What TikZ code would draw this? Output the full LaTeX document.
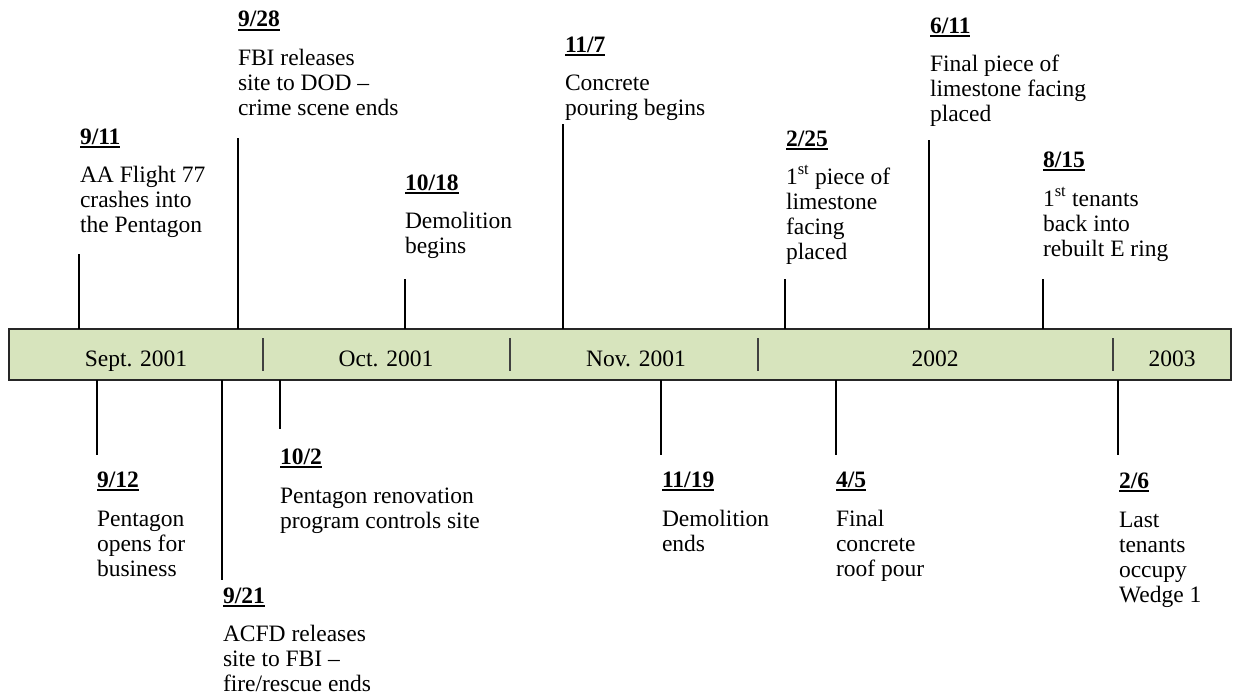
\documentclass[tikz,border=0pt]{standalone}
\usepackage{fontspec}
\setmainfont{Liberation Serif}
\definecolor{bandgreen}{HTML}{D7E4BD}
\newcommand\dlbl[1]{\setbox0=\hbox{\bfseries #1}\rlap{\rule[-4pt]{\wd0}{2pt}}\box0}
\newcommand\stk[1]{\vtop{\baselineskip=25pt\lineskiplimit=-40pt\lineskip=0pt\halign{##\hfil\cr#1\crcr}}}
\tikzset{
  txt/.style={inner sep=0pt, outer sep=0pt, anchor=base west, font=\fontsize{23.5pt}{25pt}\selectfont},
  mlbl/.style={inner sep=0pt, anchor=base, font=\fontsize{23.5pt}{25pt}\selectfont},
  tickln/.style={draw=black, line width=1.4pt},
  divln/.style={draw=black!75, line width=1.3pt},
  bandbox/.style={draw=black!85, line width=1.6pt, fill=bandgreen, minimum width=1222pt, minimum height=51pt, inner sep=0pt, outer sep=0pt, anchor=north west}
}
\begin{document}
\begin{tikzpicture}[x=1pt,y=-1pt]
\useasboundingbox (0,0) rectangle (1233,696);
\node[bandbox] (band) at (9,329) {};
% dividers
\draw[divln] (263,338) -- (263,371);
\draw[divln] (510,338) -- (510,371);
\draw[divln] (758,338) -- (758,371);
\draw[divln] (1113,338) -- (1113,371);
% month labels
\node[mlbl] (m1) at (136,366) {Sept. 2001};
\node[mlbl] (m2) at (386,366) {Oct. 2001};
\node[mlbl] (m3) at (636,366) {Nov. 2001};
\node[mlbl] (m4) at (935,366) {2002};
\node[mlbl] (m5) at (1172,366) {2003};
% top events
\coordinate (k1) at (79,254);
\coordinate (k2) at (238,138);
\coordinate (k3) at (405,279);
\coordinate (k4) at (563,124);
\coordinate (k5) at (785,279);
\coordinate (k6) at (929,140);
\coordinate (k7) at (1043,279);
\foreach \k in {k1,k2,k3,k4,k5,k6,k7} \draw[tickln] (\k) -- (\k |- band.north);
\node[txt] (t1) at (80,144) {\dlbl{9/11}};
\node[txt] (b1) at (80,182) {\stk{AA Flight 77\cr crashes into\cr the Pentagon}};
\node[txt] (t2) at (238,27) {\dlbl{9/28}};
\node[txt] (b2) at (238,65) {\stk{FBI releases\cr site to DOD --\cr crime scene ends}};
\node[txt] (t3) at (405,190) {\dlbl{10/18}};
\node[txt] (b3) at (405,228) {\stk{Demolition\cr begins}};
\node[txt] (t4) at (565,52) {\dlbl{11/7}};
\node[txt] (b4) at (565,90) {\stk{Concrete\cr pouring begins}};
\node[txt] (t5) at (786,146) {\dlbl{2/25}};
\node[txt] (b5) at (786,184) {\stk{1\textsuperscript{st} piece of\cr limestone\cr facing\cr placed}};
\node[txt] (t6) at (930,33) {\dlbl{6/11}};
\node[txt] (b6) at (930,71) {\stk{Final piece of\cr limestone facing\cr placed}};
\node[txt] (t7) at (1043,167) {\dlbl{8/15}};
\node[txt] (b7) at (1043,206) {\stk{1\textsuperscript{st} tenants\cr back into\cr rebuilt E ring}};
% bottom events
\coordinate (j1) at (97,455);
\coordinate (j2) at (222,580);
\coordinate (j3) at (280,429);
\coordinate (j4) at (661,455);
\coordinate (j5) at (836,455);
\coordinate (j6) at (1118,455);
\foreach \k in {j1,j2,j3,j4,j5,j6} \draw[tickln] (\k |- band.south) -- (\k);
\node[txt] (u1) at (97,487) {\dlbl{9/12}};
\node[txt] (v1) at (97,526) {\stk{Pentagon\cr opens for\cr business}};
\node[txt] (u2) at (223,603) {\dlbl{9/21}};
\node[txt] (v2) at (223,641) {\stk{ACFD releases\cr site to FBI --\cr fire/rescue ends}};
\node[txt] (u3) at (280,464) {\dlbl{10/2}};
\node[txt] (v3) at (280,503) {\stk{Pentagon renovation\cr program controls site}};
\node[txt] (u4) at (662,487) {\dlbl{11/19}};
\node[txt] (v4) at (662,526) {\stk{Demolition\cr ends}};
\node[txt] (u5) at (836,487) {\dlbl{4/5}};
\node[txt] (v5) at (836,526) {\stk{Final\cr concrete\cr roof pour}};
\node[txt] (u6) at (1119,488) {\dlbl{2/6}};
\node[txt] (v6) at (1119,527) {\stk{Last\cr tenants\cr occupy\cr Wedge 1}};
\end{tikzpicture}
\end{document}
